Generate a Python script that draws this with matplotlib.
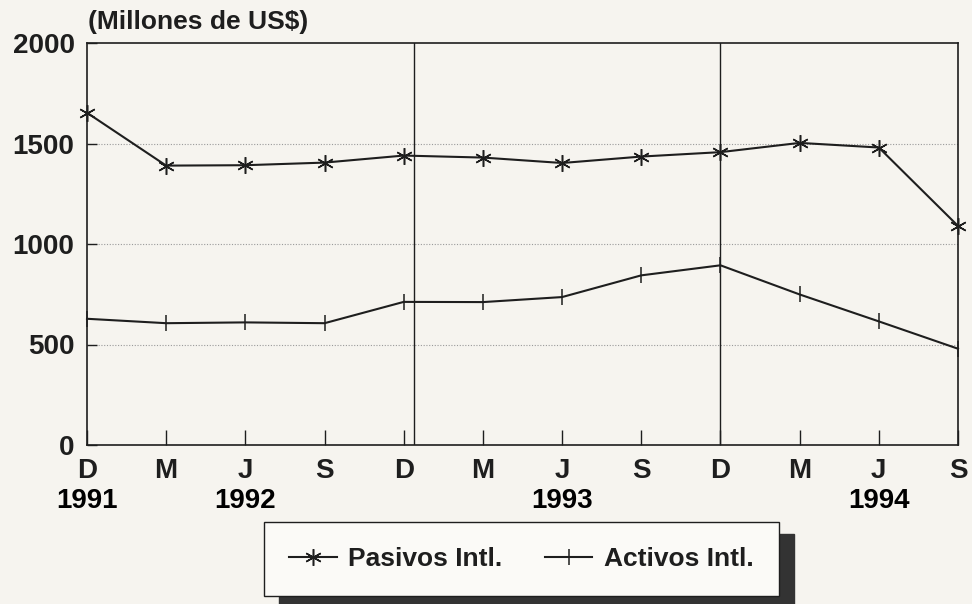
import matplotlib
matplotlib.use('Agg')
import matplotlib.pyplot as plt

# quarterly points, Dec 1991 - Sep 1994
months = ['D', 'M', 'J', 'S', 'D', 'M', 'J', 'S', 'D', 'M', 'J', 'S']
year_pos = [0, 2, 6, 10]
year_labels = ['1991', '1992', '1993', '1994']
pasivos = [1653, 1390, 1392, 1405, 1440, 1430, 1403, 1435, 1457, 1503, 1480, 1090]
activos = [628, 606, 610, 606, 712, 711, 736, 844, 894, 749, 615, 479]

plt.rcParams['font.family'] = ['Liberation Sans', 'DejaVu Sans']
plt.rcParams['font.weight'] = 'bold'

paper = '#f6f4ef'
ink = '#1e1e1e'

fig = plt.figure(figsize=(9.72, 6.04), dpi=100, facecolor=paper)
ax = fig.add_axes([87/972, 1-445/604, (958-87)/972, (445-43)/604])
ax.set_facecolor(paper)

x = list(range(len(months)))

# year separators
ax.axvline(4.13, color=ink, lw=1)
ax.axvline(8, color=ink, lw=1)

for yv in (500, 1000, 1500):
    ax.axhline(yv, color='#9a9a9a', lw=0.8, ls=(0, (1, 1.5)), zorder=0)

ax.plot(x, pasivos, color=ink, lw=1.5, marker=(6, 2, 0), ms=12, mew=1.1,
        label='Pasivos Intl.', clip_on=False)
ax.plot(x, activos, color=ink, lw=1.5, marker='|', ms=11, mew=1.1,
        label='Activos Intl.', clip_on=False)

ax.set_xlim(0, 11)
ax.set_ylim(0, 2000)
ax.set_yticks([0, 500, 1000, 1500, 2000])
ax.xaxis.remove_overlapping_locs = False
ax.set_xticks(x)
ax.set_xticklabels(months)
ax.set_xticks(year_pos, minor=True)
ax.set_xticklabels(year_labels, minor=True)
ax.tick_params(axis='both', direction='in', colors=ink)
ax.tick_params(axis='y', length=7, width=1, pad=9, labelsize=20)
ax.tick_params(axis='x', length=11, width=1, pad=9, labelsize=20)
ax.tick_params(axis='x', which='minor', length=0, pad=31, labelsize=20)

for s in ax.spines.values():
    s.set_color(ink)
    s.set_linewidth(1.2)

fig.text(88/972, 1-22/604, '(Millones de US$)', fontsize=19, fontweight='bold',
         color=ink, va='center', ha='left')

leg = fig.legend(loc='center', bbox_to_anchor=(521.5/972, 1-559/604),
                 ncol=2, fontsize=19, frameon=True, fancybox=False,
                 handlelength=1.8, handletextpad=0.45, columnspacing=1.6,
                 borderpad=0.95,
                 shadow={'ox': 11, 'oy': -9, 'color': '#333333', 'alpha': 1})
leg.get_frame().set_edgecolor(ink)
leg.get_frame().set_linewidth(1.0)
leg.get_frame().set_facecolor('#fbfaf7')
for t in leg.get_texts():
    t.set_color(ink)

fig.savefig('out.png', dpi=100, facecolor=paper)
